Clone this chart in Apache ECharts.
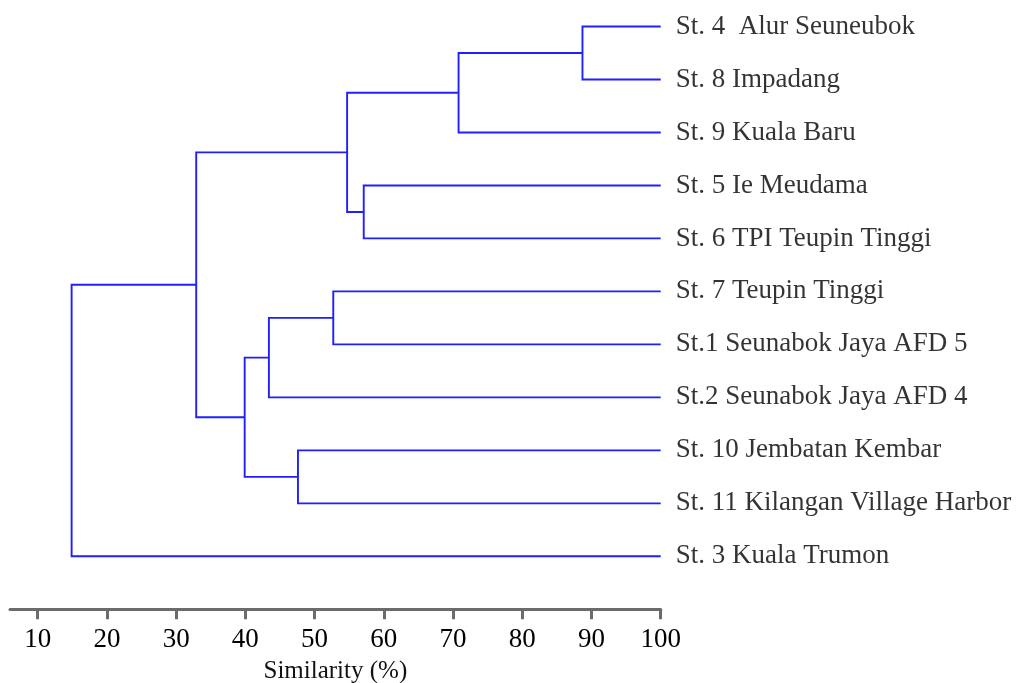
<!DOCTYPE html>
<html>
<head>
<meta charset="utf-8">
<script src="https://cdn.jsdelivr.net/npm/echarts@6/dist/echarts.min.js"></script>
<style>
html,body{margin:0;padding:0;background:#fff;}
#c{width:1020px;height:683px;}
</style>
</head>
<body>
<div id="c"></div>
<script>
// Leaves, top to bottom
const leaves = [
  "St. 4  Alur Seuneubok",
  "St. 8 Impadang",
  "St. 9 Kuala Baru",
  "St. 5 Ie Meudama",
  "St. 6 TPI Teupin Tinggi",
  "St. 7 Teupin Tinggi",
  "St.1 Seunabok Jaya AFD 5",
  "St.2 Seunabok Jaya AFD 4",
  "St. 10 Jembatan Kembar",
  "St. 11 Kilangan Village Harbor",
  "St. 3 Kuala Trumon"
];
// Merge k creates node id leaves.length + k
const mergeA = [0, 11, 3, 12, 5, 15, 8, 16, 14, 19];
const mergeB = [1, 2, 4, 13, 6, 7, 9, 17, 18, 10];
const mergeHeight = [88.7, 70.8, 57.1, 54.7, 52.7, 43.4, 47.6, 39.9, 32.9, 14.9];
const tickValues = [10, 20, 30, 40, 50, 60, 70, 80, 90, 100];
const leafSimilarity = 100;

const nodeX = leaves.map(() => leafSimilarity);
const nodeY = leaves.map((_, i) => i);
const links = [];
mergeHeight.forEach((h, k) => {
  const a = mergeA[k], b = mergeB[k];
  links.push({coords: [[nodeX[a], nodeY[a]], [h, nodeY[a]], [h, nodeY[b]], [nodeX[b], nodeY[b]]]});
  nodeX.push(h);
  nodeY.push((nodeY[a] + nodeY[b]) / 2);
});

const chart = echarts.init(document.getElementById('c'), null, {renderer: 'canvas'});
const serif = "'Liberation Serif', 'Times New Roman', serif";
chart.setOption({
  animation: false,
  backgroundColor: '#fff',
  grid: {left: 10, right: 359.3, top: 0, bottom: 73.7, containLabel: false, outerBoundsMode: 'none'},
  xAxis: {
    type: 'value', min: 6, max: 100, position: 'bottom',
    axisLine: {show: true, onZero: false, lineStyle: {color: '#6b6b6b', width: 3}},
    axisTick: {show: true, customValues: tickValues, length: 10, inside: false, lineStyle: {color: '#6b6b6b', width: 3}},
    axisLabel: {show: true, customValues: tickValues, margin: 17, fontFamily: serif, fontSize: 27, color: '#000'},
    splitLine: {show: false},
    name: 'Similarity (%)', nameLocation: 'middle', nameGap: 50,
    nameTextStyle: {fontFamily: serif, fontSize: 25, color: '#111'}
  },
  yAxis: {
    type: 'value', min: -0.5, max: 11, inverse: true, show: false
  },
  series: [
    {
      type: 'lines', coordinateSystem: 'cartesian2d', polyline: true, clip: false,
      silent: true,
      lineStyle: {color: '#1f1fff', width: 1.9, opacity: 1, curveness: 0},
      data: links
    },
    {
      type: 'scatter', symbolSize: 0, clip: false, silent: true,
      data: leaves.map((n, i) => ({name: n, value: [leafSimilarity, i]})),
      label: {show: true, position: 'right', distance: 15, formatter: '{b}',
        fontFamily: serif, fontSize: 27, color: '#000'}
    }
  ]
});
</script>
</body>
</html>
